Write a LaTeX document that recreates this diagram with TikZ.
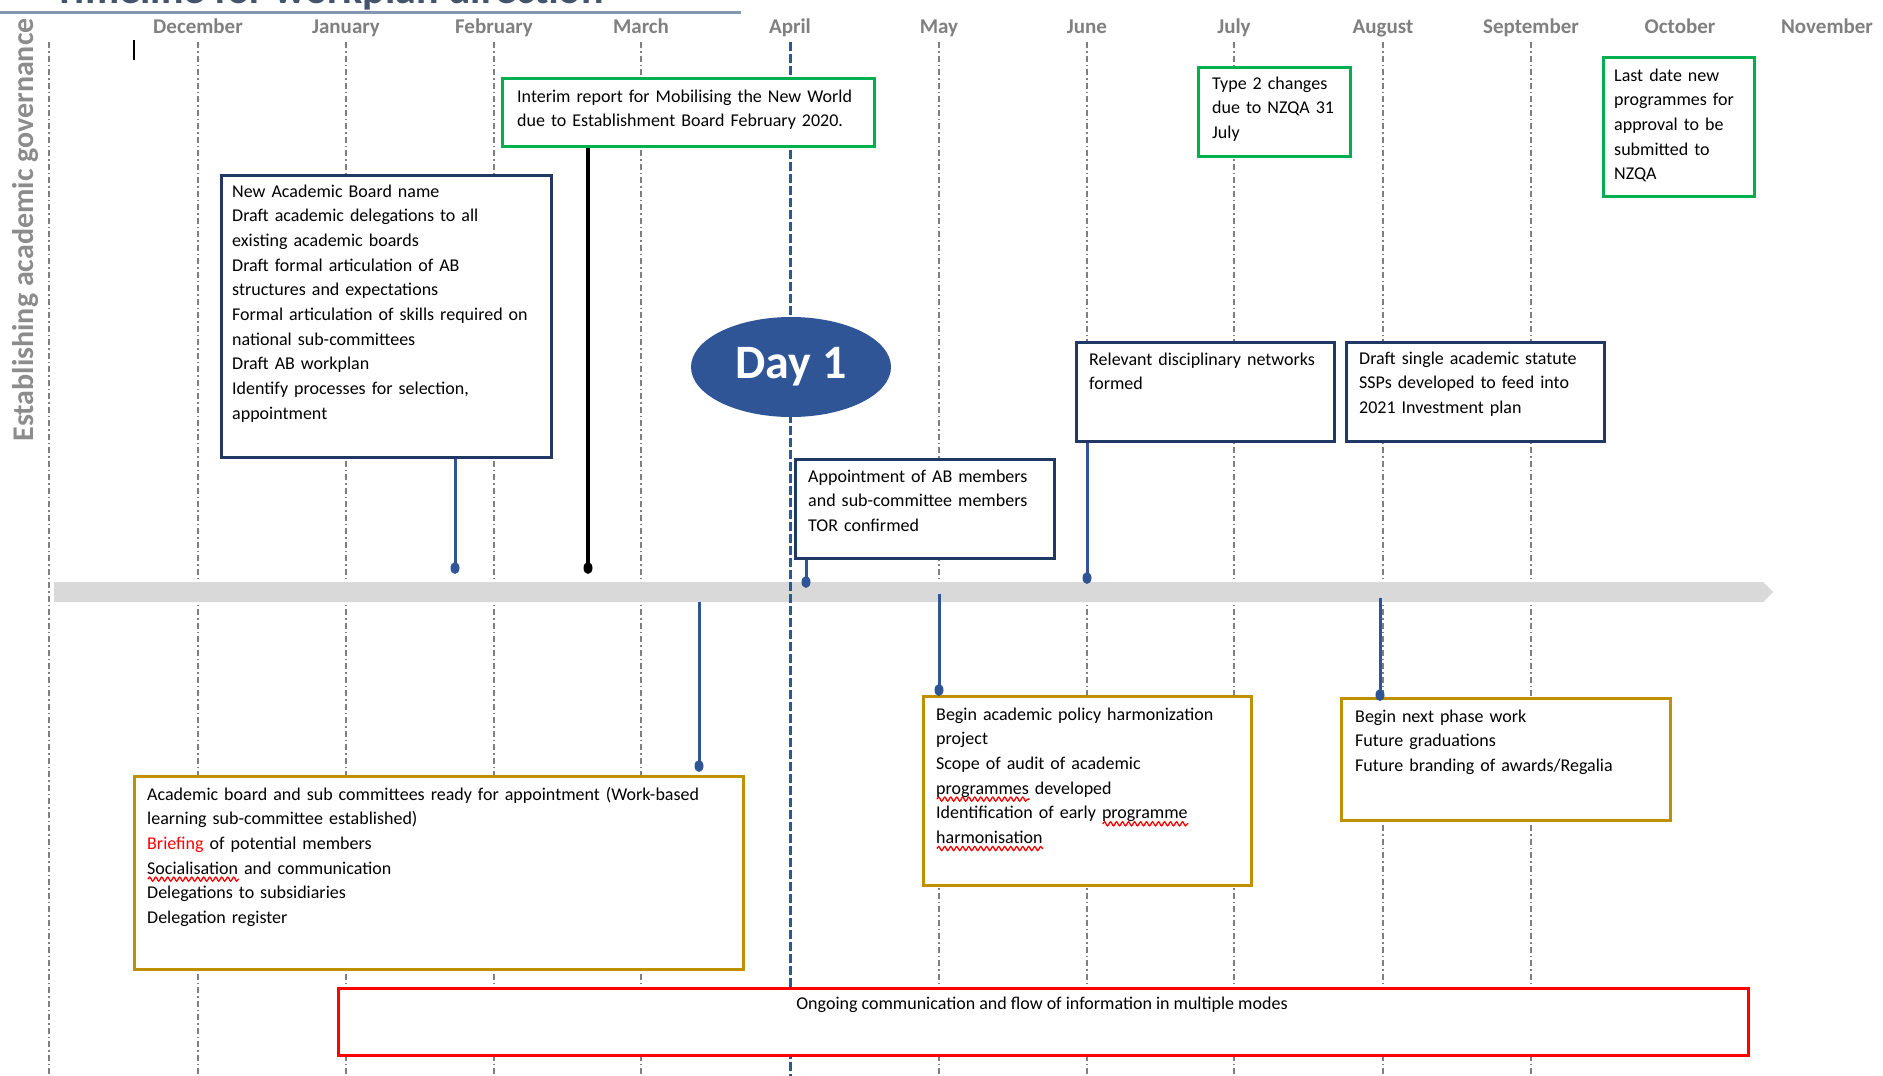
\documentclass[tikz,border=0pt]{standalone}
\usepackage{fontspec}
\setmainfont{Carlito}
\usetikzlibrary{shapes.geometric,calc,decorations.pathmorphing}
\newsavebox\wavebox
\newlength\wavelen
\newcommand\redwave[1]{\sbox\wavebox{#1}\setlength\wavelen{\wd\wavebox}\leavevmode\rlap{\tikz[baseline=0pt,x=1pt,y=1pt]\draw[red,line width=1.3pt,decorate,decoration={snake,amplitude=2pt,segment length=6pt}] (0pt,-5pt) -- (\wavelen,-5pt);}\usebox\wavebox}
\definecolor{navy}{HTML}{203864}
\definecolor{tlblue}{HTML}{2F5597}
\definecolor{grn}{HTML}{00B050}
\definecolor{gold}{HTML}{BF9000}
\definecolor{bandgray}{HTML}{D9D9D9}
\definecolor{lbl}{HTML}{808080}
\definecolor{titleblue}{HTML}{44546A}
\definecolor{titleline}{HTML}{8497B0}
\tikzset{
  bx/.style={draw, fill=white, inner sep=0pt, anchor=north west},
  navybox/.style={bx, draw=navy, line width=2.5pt},
  greenbox/.style={bx, draw=grn, line width=3pt},
  goldbox/.style={bx, draw=gold, line width=3pt},
  redbox/.style={bx, draw=red, line width=3pt},
  txt/.style={anchor=base west, inner sep=0pt, text width=#1, align=left,
    font=\fontsize{18}{24.7}\selectfont},
  txt/.default=400pt,
  mlabel/.style={anchor=base, inner sep=0pt, text=lbl,
    font=\bfseries\fontsize{21}{21}\selectfont},
  gridline/.style={draw=lbl, line width=1.1pt, dash pattern=on 6pt off 3pt on 1.5pt off 3pt},
  aprline/.style={draw=tlblue, line width=3pt, dash pattern=on 9pt off 3pt},
  conn/.style={draw=tlblue, line width=3pt},
  bconn/.style={draw=black, line width=3.2pt},
  dotmark/.style={fill=tlblue},
}
\begin{document}
\begin{tikzpicture}[x=1pt,y=-1pt]
\useasboundingbox (0,0) rectangle (1883,1076);
\fill[white] (0,0) rectangle (1883,1076);

% title (cut off at top, as in the reference)
\node[anchor=base west, inner sep=0pt, text=titleblue,
  font=\bfseries\fontsize{42}{42}\selectfont] (title) at (54,4) {Timeline for workplan direction};
\draw[titleline, line width=3pt] (0,12) -- (741,12);

% vertical label
\node[rotate=90, inner sep=0pt, text=black!45,
  font=\bfseries\fontsize{30}{30}\selectfont] (gov) at (26,230) {Establishing academic governance};

% cursor
\draw[black, line width=1.5pt] (134,40) -- (134,60);

% month labels
\foreach \m/\x [count=\i] in {December/198,January/346,February/494,March/641,April/790,May/939,June/1087,July/1234,August/1383,September/1531,October/1680,November/1827}
  \node[mlabel] (m\i) at (\x,33) {\m};

% grid lines
\foreach \x in {49,198,346,494,641,939,1087,1234,1383,1531}
  \draw[gridline] (\x,42) -- (\x,1076);

% timeline band
\fill[bandgray] (54,582) -- (1763,582) -- (1773,592) -- (1763,602) -- (54,602) -- cycle;

% April line
\draw[aprline] (790,42) -- (790,1076);

% Day 1
\node[ellipse, fill=tlblue, minimum width=200pt, minimum height=100pt, inner sep=0pt,
  text=white, font=\bfseries\fontsize{48}{48}\selectfont] (day1) at (791,367) {Day 1};

% upper boxes
\node[navybox, minimum width=330pt, minimum height=282pt] (b1) at (220,174) {};
\node[txt] (t1) at (232,197) {New Academic Board name\\
Draft academic delegations to all\\
existing academic boards\\
Draft formal articulation of AB\\
structures and expectations\\
Formal articulation of skills required on\\
national sub-committees\\
Draft AB workplan\\
Identify processes for selection,\\
appointment};

\node[greenbox, minimum width=372pt, minimum height=68pt] (b2) at (501,77) {};
\node[txt] (t2) at (517,102) {Interim report for Mobilising the New World\\
due to Establishment Board February 2020.};

\node[greenbox, minimum width=152pt, minimum height=89pt] (b7) at (1197,66) {};
\node[txt] (t7) at (1212,89) {Type 2 changes\\ due to NZQA 31\\ July};

\node[greenbox, minimum width=151pt, minimum height=139pt] (b8) at (1602,56) {};
\node[txt] (t8) at (1614,81) {Last date new\\ programmes for\\ approval to be\\ submitted to\\ NZQA};

\node[navybox, minimum width=259pt, minimum height=99pt] (b4) at (794,458) {};
\node[txt] (t4) at (808,482) {Appointment of AB members\\ and sub-committee members\\ TOR confirmed};

\node[navybox, minimum width=258pt, minimum height=99pt] (b5) at (1075,341) {};
\node[txt] (t5) at (1089,365) {Relevant disciplinary networks\\ formed};

\node[navybox, minimum width=258pt, minimum height=99pt] (b6) at (1345,341) {};
\node[txt] (t6) at (1359,364) {Draft single academic statute\\ SSPs developed to feed into\\ 2021 Investment plan};

% lower boxes
\node[goldbox, minimum width=609pt, minimum height=193pt] (b9) at (133,775) {};
\node[txt=590pt] (t9) at (147,800) {Academic board and sub committees ready for appointment (Work-based\\
learning sub-committee established)\\
\textcolor{red}{Briefing} of potential members\\
\redwave{Socialisation} and communication\\
Delegations to subsidiaries\\
Delegation register};

\node[goldbox, minimum width=328pt, minimum height=189pt] (b10) at (922,695) {};
\node[txt] (t10) at (936,720) {Begin academic policy harmonization\\
project\\
Scope of audit of academic\\
\redwave{programmes} developed\\
Identification of early \redwave{programme}\\
\redwave{harmonisation}};

\node[goldbox, minimum width=329pt, minimum height=122pt] (b11) at (1340,697) {};
\node[txt] (t11) at (1355,722) {Begin next phase work\\ Future graduations\\ Future branding of awards/Regalia};

\node[redbox, minimum width=1410pt, minimum height=67pt] (b12) at (337,987) {};
\node[anchor=base, inner sep=0pt, font=\fontsize{18}{22}\selectfont] (t12) at (1042,1009)
  {Ongoing communication and flow of information in multiple modes};

% connectors
\coordinate (d1) at (455,568);
\coordinate (d2) at (588,568);
\coordinate (d4) at (806,582);
\coordinate (d5) at (1087,578);
\coordinate (u9) at (699,602);  \coordinate (d9) at (699,766);
\coordinate (u10) at (939,594); \coordinate (d10) at (939,690);
\coordinate (u11) at (1380,598); \coordinate (d11) at (1380,695);

\draw[conn] (d1 |- b1.south) -- (d1);
\fill[dotmark] (d1) ellipse [x radius=4.5, y radius=6];
\draw[bconn] (d2 |- b2.south) -- (d2);
\fill[black] (d2) ellipse [x radius=4.5, y radius=6];
\draw[conn] (d4 |- b4.south) -- (d4);
\fill[dotmark] (d4) ellipse [x radius=4.5, y radius=6];
\draw[conn] (d5 |- b5.south) -- (d5);
\fill[dotmark] (d5) ellipse [x radius=4.5, y radius=6];
\draw[conn] (u9) -- (d9);
\fill[dotmark] (d9) ellipse [x radius=4.5, y radius=6];
\draw[conn] (u10) -- (d10);
\fill[dotmark] (d10) ellipse [x radius=4.5, y radius=6];
\draw[conn] (u11) -- (d11);
\fill[dotmark] (d11) ellipse [x radius=4.5, y radius=6];
\end{tikzpicture}
\end{document}
